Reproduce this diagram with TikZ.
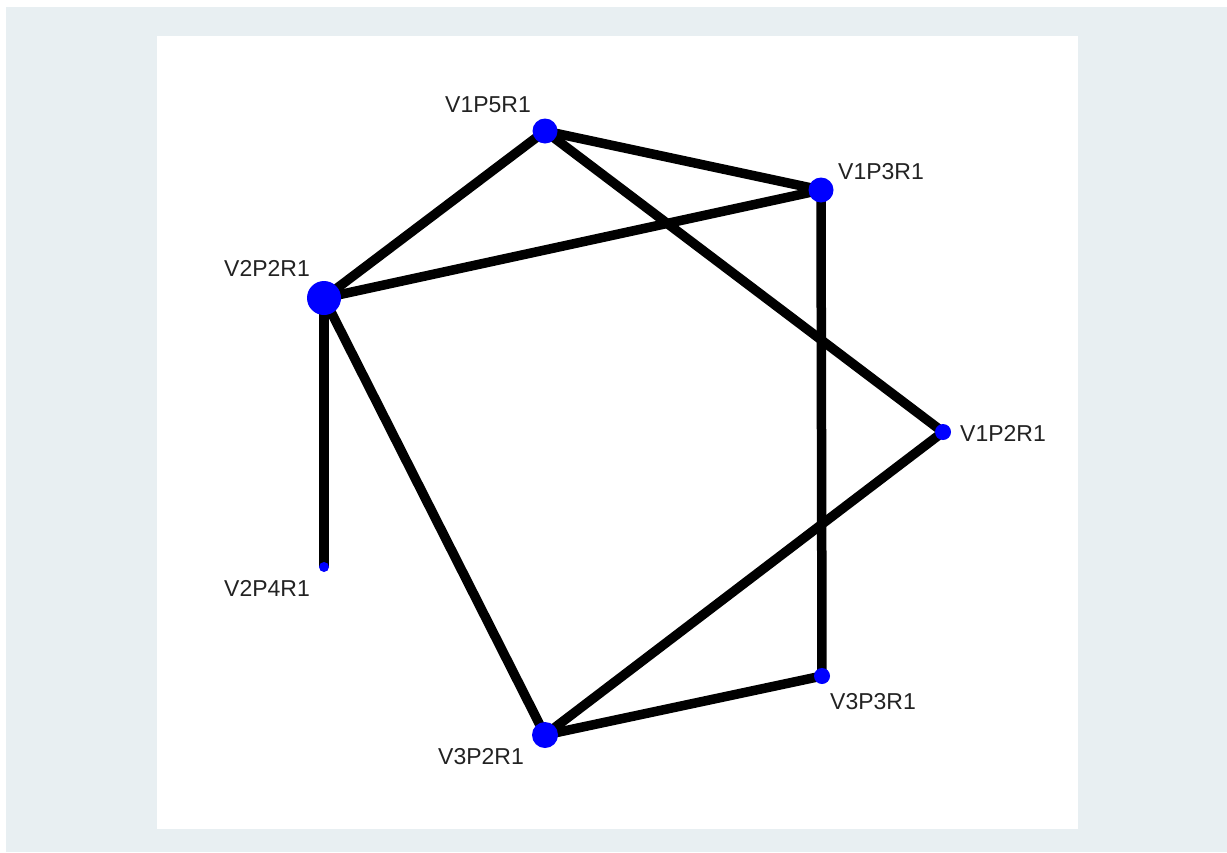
\documentclass[tikz,border=0pt]{standalone}
\usepackage{fontspec}
\setmainfont{Liberation Sans}
\definecolor{bgouter}{HTML}{E8EFF2}
\definecolor{nodeblue}{HTML}{0000FF}
\definecolor{labelgray}{HTML}{222222}
\begin{document}
\begin{tikzpicture}[x=1pt,y=-1pt,
  vtx/.style={circle,fill=nodeblue,draw=none,inner sep=0pt,minimum size=#1},
  edge/.style={line width=9.5pt,black},
  lbl/.style={font=\fontsize{23}{25}\selectfont,text=labelgray,inner sep=0pt}]
\useasboundingbox (0,0) rectangle (1227,852);
\fill[white] (0,0) rectangle (1227,852);
\fill[bgouter] (6,7) rectangle (1227,852);
\fill[white] (157,36) rectangle (1078,829);
% vertices (coordinates only, for edges)
\coordinate (p5) at (545,131);
\coordinate (p3) at (821,190);
\coordinate (p22) at (324,298);
\coordinate (p2) at (943,432);
\coordinate (p24) at (324,567);
\coordinate (v32) at (545,735);
\coordinate (v33) at (822,676);
% edges
\draw[edge] (p5) -- (p3);
\draw[edge] (p5) -- (p22);
\draw[edge] (p5) -- (p2);
\draw[edge] (p3) -- (p22);
\draw[edge] (p3) -- (v33);
\draw[edge] (p22) -- (p24);
\draw[edge] (p22) -- (v32);
\draw[edge] (p2) -- (v32);
\draw[edge] (v32) -- (v33);
% node dots
\node[vtx=25pt] (n5) at (p5) {};
\node[vtx=25pt] (n3) at (p3) {};
\node[vtx=34pt] (n22) at (p22) {};
\node[vtx=16pt] (n2) at (p2) {};
\node[vtx=10pt] (n24) at (p24) {};
\node[vtx=26pt] (n32) at (v32) {};
\node[vtx=16pt] (n33) at (v33) {};
% labels
\node[lbl] (l5) at (488,105) {V1P5R1};
\node[lbl] (l3) at (881,172) {V1P3R1};
\node[lbl] (l22) at (267,268) {V2P2R1};
\node[lbl] (l2) at (1003,433) {V1P2R1};
\node[lbl] (l24) at (267,588) {V2P4R1};
\node[lbl] (l32) at (481,757) {V3P2R1};
\node[lbl] (l33) at (873,702) {V3P3R1};
\end{tikzpicture}
\end{document}
